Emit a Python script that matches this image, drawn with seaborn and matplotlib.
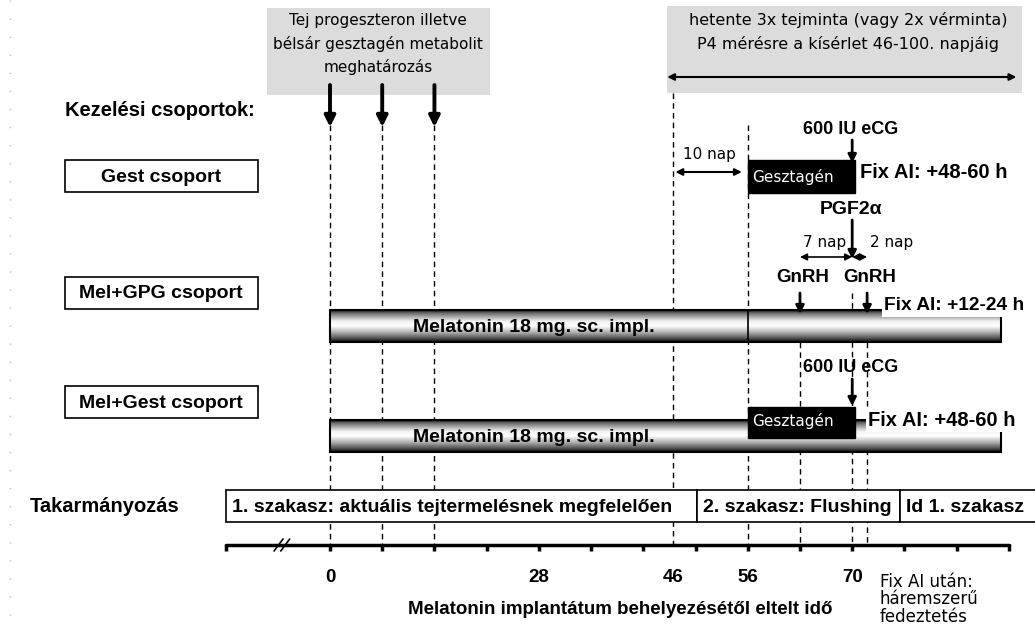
import numpy as np
import matplotlib

matplotlib.use("Agg")
import matplotlib.pyplot as plt  # noqa: E402
from matplotlib.patches import Rectangle  # noqa: E402
import seaborn as sns  # noqa: E402

# ---- adatok (napok a melatonin implantátum behelyezésétől) ----
tick_days = [-14, 0, 7, 14, 21, 28, 35, 42, 49, 56, 63, 70, 77, 84, 91]
label_days = [0, 28, 46, 56, 70]
sample_days = [0, 7, 14]
groups = ["Gest csoport", "Mel+GPG csoport", "Mel+Gest csoport"]
melatonin_span = [0, 90]
gestagen_span = [56, 70]
ecg_day = 70
pgf_day = 70
gnrh_days = [63, 72]
sampling_window = [46, 92]
rest_days = [46, 56]
feeding_labels = ["1. szakasz: aktuális tejtermelésnek megfelelően",
                  "2. szakasz: Flushing", "Id 1. szakasz"]
feeding_starts = [-14, 49.2, 76.4]
feeding_ends = [49.2, 76.4, 100]
dashed_days = [0, 7, 14, 46, 56, 63, 70, 72]
dashed_tops = [125, 125, 125, 93, 125, 313, 293, 313]

X0, PPD = 330, 7.46  # 0. nap pixel helye, pixel / nap


def px(x):
    return (x - X0) / PPD


sns.set_style("white")
plt.rcParams["font.family"] = ["Liberation Sans", "DejaVu Sans"]

fig = plt.figure(figsize=(10.35, 6.24), dpi=100)
ax = fig.add_axes([0, 0, 1, 1])
ax.set_axis_off()


def bold(size=14):
    return dict(fontweight="bold", fontsize=size, color="black")


THIN = dict(family="DejaVu Sans", fontsize=11, color="black")


def down_arrow(x, y0, y1, lw=2.5, ms=14):
    ax.annotate("", xy=(x, y1), xytext=(x, y0),
                arrowprops=dict(arrowstyle="-|>", lw=lw, color="black",
                                mutation_scale=ms, shrinkA=0, shrinkB=0))


def double_arrow(x0, x1, y, lw=1.5):
    ax.annotate("", xy=(x1, y), xytext=(x0, y),
                arrowprops=dict(arrowstyle="<|-|>", lw=lw, color="black",
                                mutation_scale=10, shrinkA=0, shrinkB=0))


def melatonin_bar(y_top, y_bot):
    prof = np.interp(np.linspace(0, 1, 64),
                     [0, 0.08, 0.35, 0.5, 0.72, 0.9, 1],
                     [0.05, 0.4, 0.95, 1.0, 0.65, 0.3, 0.02])
    ax.imshow(prof[:, None], extent=[melatonin_span[0], melatonin_span[1], y_bot, y_top],
              aspect="auto", cmap="gray", vmin=0, vmax=1, origin="upper", zorder=2)
    ax.add_patch(Rectangle((melatonin_span[0], y_top), melatonin_span[1] - melatonin_span[0],
                           y_bot - y_top, fill=False, ec="black", lw=1.5, zorder=3))
    ax.text(px(534), (y_top + y_bot) / 2 + 1, "Melatonin 18 mg. sc. impl.",
            ha="center", va="center", zorder=4, **bold(14))


# szürke fejléc dobozok
ax.add_patch(Rectangle((px(267), 8), px(490) - px(267), 87, fc="#dcdcdc", ec="none", zorder=0))
for i, line in enumerate(["Tej progeszteron illetve", "bélsár gesztagén metabolit",
                          "meghatározás"]):
    ax.text(px(378), 20 + i * 23.5, line, ha="center", va="center", **THIN)
ax.add_patch(Rectangle((sampling_window[0] - 0.8, 6), px(1022) - sampling_window[0] + 0.8, 87,
                       fc="#dcdcdc", ec="none", zorder=0))
ax.text(px(848), 20, "hetente 3x tejminta (vagy 2x vérminta)", ha="center", va="center",
        family="DejaVu Sans", fontsize=11.5, color="black")
ax.text(px(848), 44, "P4 mérésre a kísérlet 46-100. napjáig", ha="center", va="center",
        family="DejaVu Sans", fontsize=11.5, color="black")
double_arrow(sampling_window[0] - 0.8, sampling_window[1], 77)

# szaggatott függőleges vonalak
for d, top in zip(dashed_days, dashed_tops):
    ax.plot([d, d], [top, 545], ls=(0, (4, 3)), lw=1, color="black", zorder=1)

# mintavételi nyilak
for d in sample_days:
    down_arrow(d, 85, 127, lw=2.8, ms=16)

ax.text(px(65), 110, "Kezelési csoportok:", ha="left", va="center", **bold(14.5))

# csoport dobozok
for name, y in zip(groups, [176, 293, 402]):
    ax.add_patch(Rectangle((px(65), y - 16), px(258) - px(65), 32, fc="white", ec="black", lw=1.2))
    ax.text(px(161), y + 1, name, ha="center", va="center", **bold(14))

# Gest csoport
ax.text(ecg_day - 0.2, 130, "600 IU eCG", ha="center", va="center", **bold(13))
down_arrow(ecg_day, 140, 163, lw=2, ms=12)
ax.add_patch(Rectangle((gestagen_span[0], 160), gestagen_span[1] - gestagen_span[0] + 0.4, 33,
                       fc="black", ec="black", zorder=3))
ax.text(gestagen_span[0] + 0.6, 177, "Gesztagén", ha="left", va="center",
        family="DejaVu Sans", fontsize=11, color="white", zorder=4)
ax.text(px(860), 172, "Fix AI: +48-60 h", ha="left", va="center", **bold(14.5))
ax.text(px(683), 155, "10 nap", ha="left", va="center", **THIN)
double_arrow(rest_days[0] + 0.3, rest_days[1] - 0.8, 172)

# Mel+GPG csoport
ax.text(pgf_day - 0.2, 210, "PGF2α", ha="center", va="center", **bold(14))
down_arrow(pgf_day, 220, 259, lw=2, ms=12)
ax.text(px(803), 242, "7 nap", ha="left", va="center", **THIN)
ax.text(px(870), 242, "2 nap", ha="left", va="center", **THIN)
double_arrow(gnrh_days[0], pgf_day, 257, lw=1.2)
double_arrow(pgf_day, gnrh_days[1], 257, lw=1.2)
for d in gnrh_days:
    ax.text(d + 0.4, 277, "GnRH", ha="center", va="center", **bold(13.5))
    down_arrow(d, 293, 314, lw=2, ms=12)
melatonin_bar(310, 342)
ax.plot([56, 56], [310, 342], color="black", lw=1.2, zorder=3)
ax.text(px(884), 306, "Fix AI: +12-24 h", ha="left", va="center", zorder=5,
        bbox=dict(fc="white", ec="none", pad=1.5), **bold(13.8))

# Mel+Gest csoport
ax.text(ecg_day - 0.2, 367, "600 IU eCG", ha="center", va="center", **bold(13))
down_arrow(ecg_day, 379, 406, lw=2, ms=12)
melatonin_bar(420, 452)
ax.add_patch(Rectangle((gestagen_span[0], 407), gestagen_span[1] - gestagen_span[0] + 0.4, 31,
                       fc="black", ec="black", zorder=4))
ax.text(gestagen_span[0] + 0.6, 421, "Gesztagén", ha="left", va="center",
        family="DejaVu Sans", fontsize=11, color="white", zorder=5)
ax.text(px(868), 420, "Fix AI: +48-60 h", ha="left", va="center", zorder=5,
        bbox=dict(fc="white", ec="none", pad=1.5), **bold(14.5))

# takarmányozás
ax.text(px(30), 506, "Takarmányozás", ha="left", va="center", **bold(14.5))
for lab, s, e in zip(feeding_labels, feeding_starts, feeding_ends):
    ax.add_patch(Rectangle((s, 490), e - s, 32, fc="white", ec="black", lw=1.2, zorder=2))
    ax.text(s + 0.8, 507, lab, ha="left", va="center", zorder=3, clip_on=True, **bold(14))

# időtengely
sns.lineplot(x=[tick_days[0], tick_days[-1]], y=[545, 545], ax=ax, color="black", lw=2.5)
for d in tick_days:
    ax.plot([d, d], [544, 551], color="black", lw=2.5, solid_capstyle="butt")
bx = px(283)
for off in (-0.6, 0.3):
    ax.plot([bx + off - 0.6, bx + off + 0.6], [551, 539], color="black", lw=1.2)
for d in label_days:
    ax.text(d, 577, str(d), ha="center", va="center", **bold(13.5))
ax.text(px(620), 610, "Melatonin implantátum behelyezésétől eltelt idő",
        ha="center", va="center", **bold(13.5))
for i, line in enumerate(["Fix AI után:", "háremszerű", "fedeztetés"]):
    ax.text(px(880), 582 + i * 17.5, line, ha="left", va="center",
            family="DejaVu Sans", fontsize=12, color="black")

# bal oldali pontozott szegély
ax.plot([px(10), px(10)], [0, 624], ls=(0, (1, 12)), color="#bbbbbb", lw=1)

ax.set_xlim(px(0), px(1035))
ax.set_ylim(624, 0)
fig.savefig("out.png", dpi=100)
